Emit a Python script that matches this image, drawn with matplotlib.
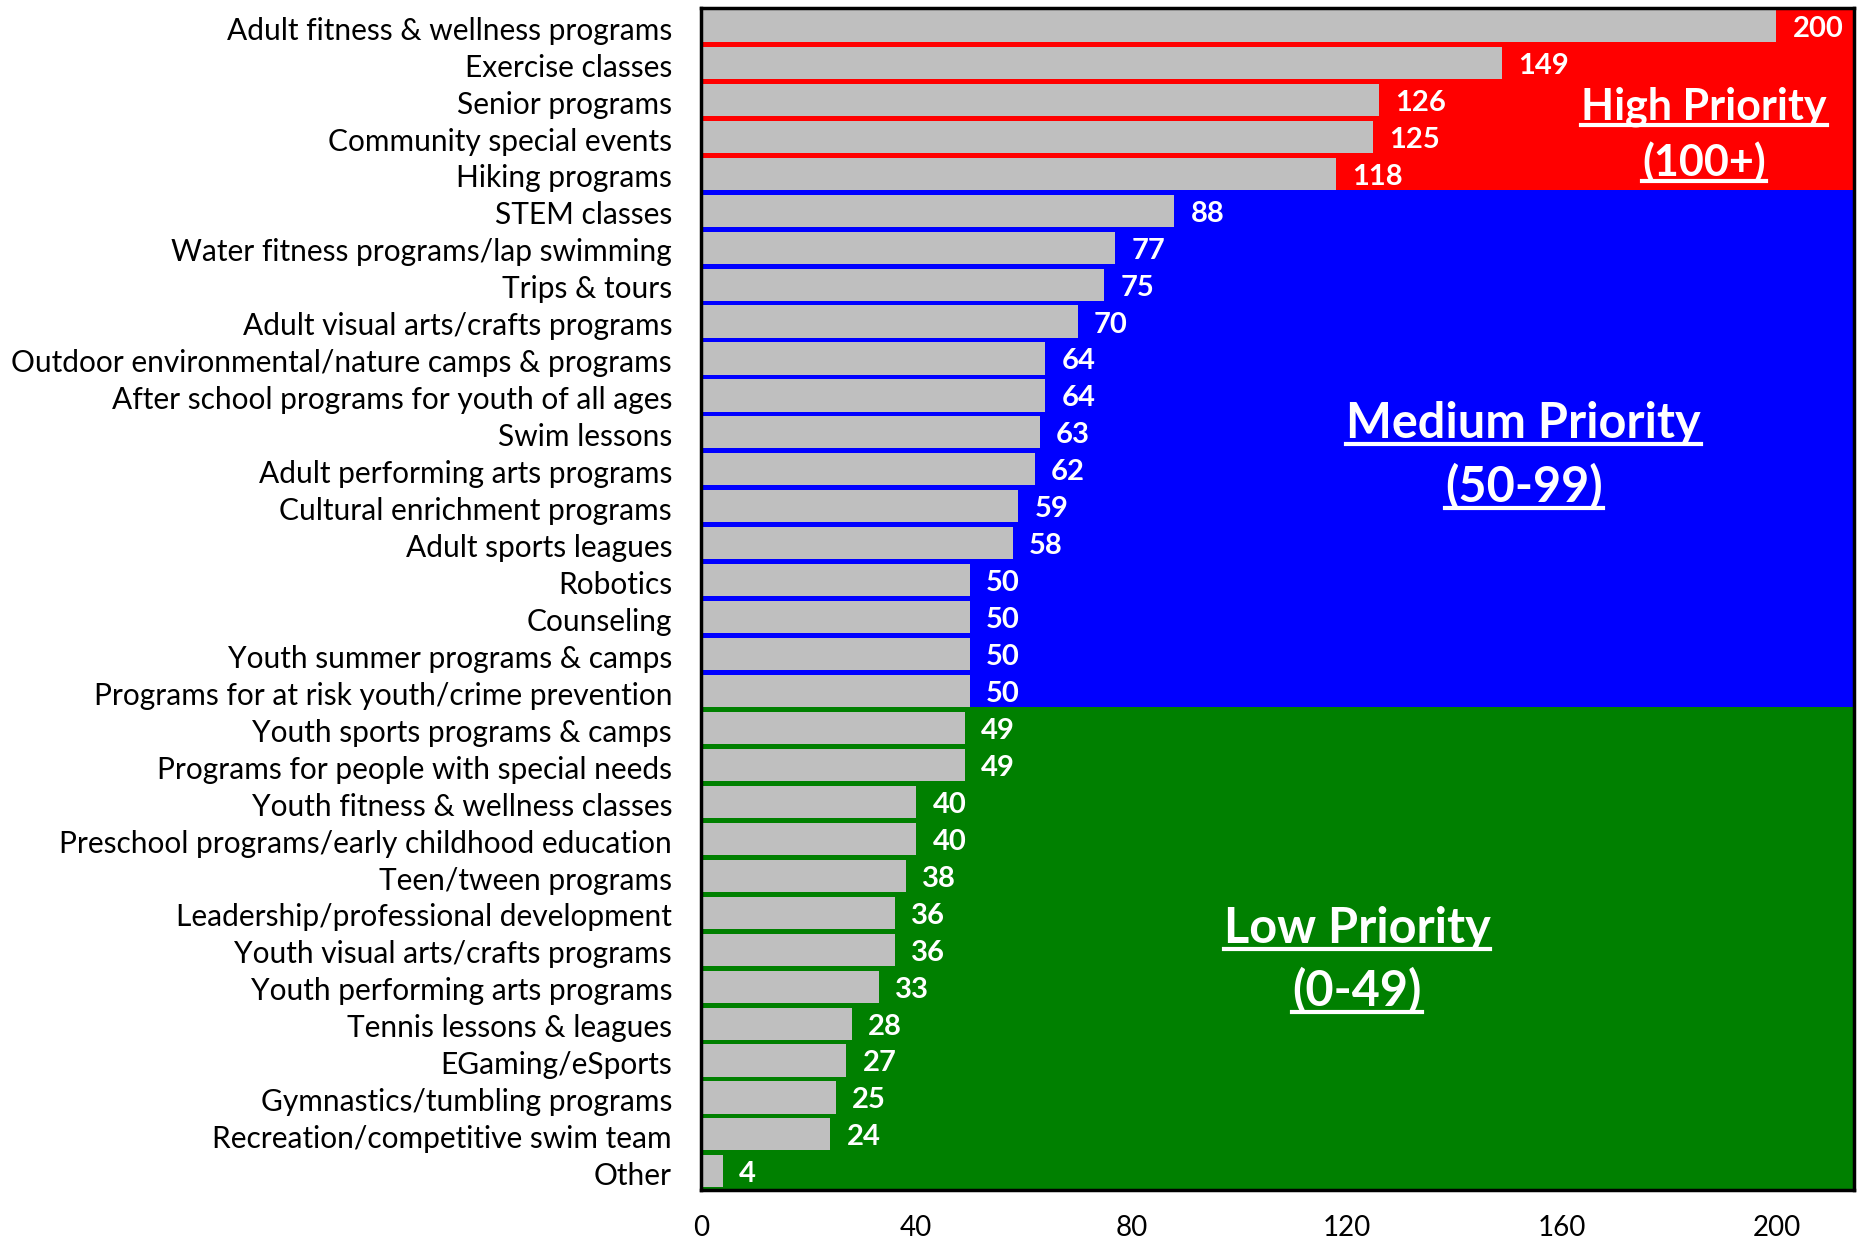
import matplotlib
matplotlib.use("Agg")
import matplotlib.pyplot as plt
from matplotlib.lines import Line2D

plt.rcParams['font.family'] = ['Lato', 'DejaVu Sans']

categories = [
    "Adult fitness & wellness programs", "Exercise classes", "Senior programs",
    "Community special events", "Hiking programs", "STEM classes",
    "Water fitness programs/lap swimming", "Trips & tours",
    "Adult visual arts/crafts programs",
    "Outdoor environmental/nature camps & programs",
    "After school programs for youth of all ages", "Swim lessons",
    "Adult performing arts programs", "Cultural enrichment programs",
    "Adult sports leagues", "Robotics", "Counseling",
    "Youth summer programs & camps",
    "Programs for at risk youth/crime prevention",
    "Youth sports programs & camps", "Programs for people with special needs",
    "Youth fitness & wellness classes",
    "Preschool programs/early childhood education", "Teen/tween programs",
    "Leadership/professional development", "Youth visual arts/crafts programs",
    "Youth performing arts programs", "Tennis lessons & leagues",
    "EGaming/eSports", "Gymnastics/tumbling programs",
    "Recreation/competitive swim team", "Other",
]
values = [200, 149, 126, 125, 118, 88, 77, 75, 70, 64, 64, 63, 62, 59, 58,
          50, 50, 50, 50, 49, 49, 40, 40, 38, 36, 36, 33, 28, 27, 25, 24, 4]

# priority bands: label, range text, number of rows, colour
band_names = ["High Priority", "Medium Priority", "Low Priority"]
band_ranges = ["(100+)", "(50-99)", "(0-49)"]
band_rows = [5, 14, 13]
band_colors = ["#FF0000", "#0000FF", "#008000"]
xticks = [0, 40, 80, 120, 160, 200]

BAR_H = 0.87

fig = plt.figure(figsize=(18.6, 12.4), dpi=100)
ax = fig.add_axes([0.377, 0.040, 0.620, 0.9535])

n = len(categories)
ax.set_xlim(0, 214.5)
ax.set_ylim(n, 0)

# coloured background bands, each ends at the bottom edge of its last bar
start = 0
for i, (rows, col) in enumerate(zip(band_rows, band_colors)):
    top = 0 if i == 0 else start - 1 + BAR_H + 0.05
    end = start + rows - 1 + BAR_H + 0.05 if i < len(band_rows) - 1 else n
    ax.axhspan(top, end, color=col, lw=0, zorder=0)
    start += rows

ypos = [i + 0.05 for i in range(n)]
ax.barh(ypos, values, height=BAR_H, align='edge', color='#BFBFBF', zorder=2)

for y, v in zip(ypos, values):
    ax.text(v + 3, y + BAR_H / 2 + 0.08, str(v), color='white', fontsize=21,
            fontweight='bold', ha='left', va='center', zorder=3)

ax.set_yticks([y + BAR_H / 2 + 0.06 for y in ypos])
ax.set_yticklabels(categories, fontsize=21.5)
ax.set_xticks(xticks)
ax.set_xticklabels([str(t) for t in xticks], fontsize=20)
ax.tick_params(axis='both', length=0)
ax.tick_params(axis='y', pad=21)
ax.tick_params(axis='x', pad=18)

for sp in ax.spines.values():
    sp.set_linewidth(2.5)
    sp.set_color('black')
    sp.set_zorder(5)

# band titles, underlined
band_pos = [(186.5, 2.67, 4.18), (153, 11.25, 12.96), (122, 24.9, 26.6)]
band_sizes = [31, 35, 35]
band_texts = []
for name, rng, (x, y1, y2), fs in zip(band_names, band_ranges, band_pos,
                                      band_sizes):
    t1 = ax.text(x, y1, name, color='white', fontsize=fs, fontweight='bold',
                 ha='center', va='center', zorder=4)
    t2 = ax.text(x, y2, rng, color='white', fontsize=fs, fontweight='bold',
                 ha='center', va='center', zorder=4)
    band_texts += [t1, t2]

fig.canvas.draw()
renderer = fig.canvas.get_renderer()
W, H = fig.bbox.width, fig.bbox.height
for t in band_texts:
    bb = t.get_window_extent(renderer)
    ylin = bb.y0 + 2
    fig.add_artist(Line2D([bb.x0 / W, bb.x1 / W], [ylin / H, ylin / H],
                          color='white', lw=3, zorder=6))

fig.savefig("out.png", dpi=100)
